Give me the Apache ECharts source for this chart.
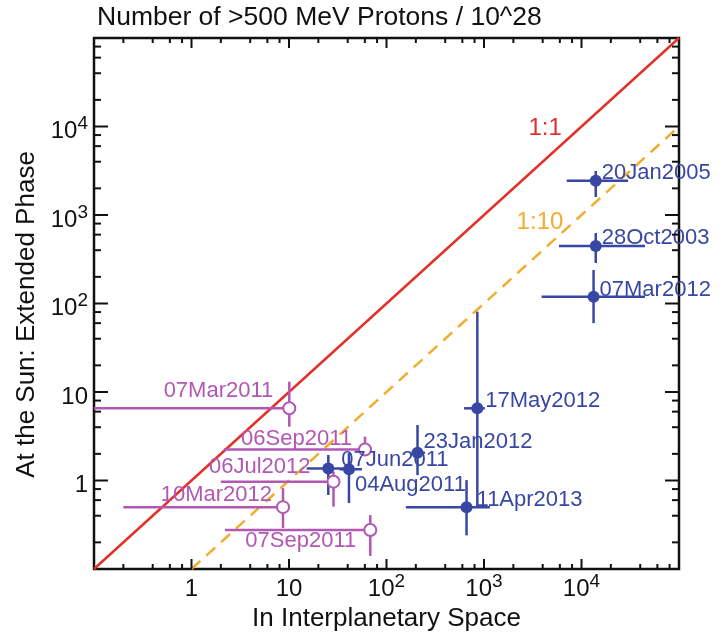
<!DOCTYPE html>
<html><head><meta charset="utf-8">
<script src="https://cdn.jsdelivr.net/npm/echarts@6/dist/echarts.min.js"></script>
<style>html,body{margin:0;padding:0;background:#fff}#c{width:725px;height:637px}</style>
</head><body><div id="c"></div>
<script>
// ---- data ----
const blueNames = ['20Jan2005','28Oct2003','07Mar2012','17May2012','23Jan2012','11Apr2013','07Jun2011','04Aug2011'];
const blueX     = [14000, 14000, 13300, 854, 208, 662, 25.3, 41.2];
const blueY     = [2440, 447, 119, 6.54, 2.06, 0.50, 1.37, 1.34];
const blueXLo   = [7050, 5880, 3900, 624, 181, 158, 15.2, 33];
const blueXHi   = [30000, 44800, 44800, 1020, 248, 1150, 38, 56];
const blueYLo   = [1600, 287, 60, 0.50, 1.15, 0.24, 0.686, 0.557];
const blueYHi   = [3140, 626, 239, 80.8, 4.24, 1.01, 1.94, 2.04];

const purpleNames = ['07Mar2011','06Sep2011','06Jul2012','10Mar2012','07Sep2011'];
const purpleX     = [10.07, 60.2, 28.6, 8.68, 68.2];
const purpleY     = [6.54, 2.24, 0.97, 0.50, 0.276];
const purpleXLo   = [0.1, 2.15, 2.0, 0.2, 2.2];
const purpleXHi   = [10.07, 60.2, 28.6, 8.68, 68.2];
const purpleYLo   = [4.05, 2.0, 0.506, 0.29, 0.14];
const purpleYHi   = [13.1, 3.13, 1.26, 0.82, 0.407];

const axisRange = [0.1, 1e5];
const majorTicks = [1, 10, 100, 1000, 10000];
const minorMultipliers = [2, 4, 6, 8];
const decades = [0.1, 1, 10, 100, 1000, 10000];

const oneToOne = [[0.1, 0.1], [1e5, 1e5]];
const oneToTen = [[1, 0.1], [1e5, 1e4]];
const refLabels = ['1:1', '1:10'];
const refLabelPos = [[4230, 9620], [3750, 834]];

// ---- styles ----
const FONT = '"Liberation Sans", Arial, Helvetica, sans-serif';
const BLUE = '#3847a3';
const PURPLE = '#b257b4';
const RED = '#e2312b';
const ORANGE = '#f2ad2e';
const INK = '#111';
// label offsets in px: blue labels start at point+dx, purple labels end at point+dx
const blueLabelOff = [[6,-8],[6,-8],[6,-7],[8,-7],[6,-11],[10,-7],[13,-8],[6,16]];
const purpleLabelOff = [[-16,-17],[-13,-11],[-23,-15],[-11,-12],[-14,11]];

const tickData = [];
majorTicks.forEach(v => { tickData.push([v, v, 0, 1]); tickData.push([v, v, 1, 1]); });
decades.forEach(d => minorMultipliers.forEach(m => {
  const v = d * m;
  if (v < axisRange[1]) { tickData.push([v, v, 0, 0]); tickData.push([v, v, 1, 0]); }
}));

function fmt(v) {
  const e = Math.round(Math.log10(v));
  if (e < 0 || e > 4) return '';
  if (e === 0) return '{b|1}';
  if (e === 1) return '{b|10}';
  return '{b|10}{s|' + e + '}';
}
const rich = {
  b: {fontSize: 24, lineHeight: 24, padding: [10, 0, 0, 0], fontFamily: FONT, color: INK},
  s: {fontSize: 19, lineHeight: 19, verticalAlign: 'top', fontFamily: FONT, color: INK}
};

function errRows(X, Y, XL, XH, YL, YH) {
  return X.map((x, i) => [x, Y[i], XL[i], XH[i], YL[i], YH[i]]);
}
function errRender(color) {
  return function (params, api) {
    const x = api.value(0), y = api.value(1);
    const a = api.coord([api.value(2), y]), b = api.coord([api.value(3), y]);
    const c = api.coord([x, api.value(4)]), d = api.coord([x, api.value(5)]);
    const st = {stroke: color, lineWidth: 2.5};
    return {type: 'group', children: [
      {type: 'line', shape: {x1: a[0], y1: a[1], x2: b[0], y2: b[1]}, style: st},
      {type: 'line', shape: {x1: c[0], y1: c[1], x2: d[0], y2: d[1]}, style: st}
    ]};
  };
}
function labelRender(names, offs, color, align) {
  return function (params, api) {
    const p = api.coord([api.value(0), api.value(1)]);
    const o = offs[params.dataIndex];
    return {type: 'text', x: p[0] + o[0], y: p[1] + o[1],
      style: {text: names[params.dataIndex], fill: color, fontSize: 22, fontFamily: FONT,
              align: align, verticalAlign: 'middle'}};
  };
}

const chart = echarts.init(document.getElementById('c'), null, {renderer: 'canvas'});
chart.setOption({
  animation: false,
  backgroundColor: '#fff',
  title: {text: 'Number of >500 MeV Protons / 10^28', left: 97, top: 4, padding: 0,
    textStyle: {fontSize: 26.5, fontWeight: 'normal', color: INK, fontFamily: FONT}},
  grid: {left: 94, top: 38, right: 46, bottom: 68, show: true, borderColor: INK, borderWidth: 2.5,
    backgroundColor: 'transparent'},
  xAxis: {type: 'log', logBase: 10, min: axisRange[0], max: axisRange[1], splitNumber: 6,
    axisLine: {show: false}, axisTick: {show: false}, splitLine: {show: false}, minorTick: {show: false},
    axisLabel: {formatter: fmt, rich: rich, margin: 3, showMinLabel: true, showMaxLabel: true},
    name: 'In Interplanetary Space', nameLocation: 'middle', nameGap: 34,
    nameTextStyle: {fontSize: 26, color: INK, fontFamily: FONT}},
  yAxis: {type: 'log', logBase: 10, min: axisRange[0], max: axisRange[1], splitNumber: 6,
    axisLine: {show: false}, axisTick: {show: false}, splitLine: {show: false}, minorTick: {show: false},
    axisLabel: {formatter: fmt, rich: rich, margin: 6, showMinLabel: true, showMaxLabel: true},
    name: 'At the Sun: Extended Phase', nameLocation: 'middle', nameGap: 44,
    nameTextStyle: {fontSize: 26, color: INK, fontFamily: FONT, padding: [0, 22, 0, 0]}},
  series: [
    {type: 'custom', name: 'ticks', data: tickData, encode: {x: 0, y: 1}, clip: false, z: 10, silent: true,
      renderItem: function (params, api) {
        const v = api.value(0), ax = api.value(2), major = api.value(3);
        const lo = api.coord([axisRange[0], axisRange[0]]);
        const hi = api.coord([axisRange[1], axisRange[1]]);
        const st = {stroke: INK, lineWidth: 2};
        if (ax === 0) {
          const x = api.coord([v, 1])[0], len = major ? 10 : 5;
          return {type: 'group', children: [
            {type: 'line', shape: {x1: x, y1: lo[1], x2: x, y2: lo[1] - len}, style: st},
            {type: 'line', shape: {x1: x, y1: hi[1], x2: x, y2: hi[1] + len}, style: st}]};
        }
        const y = api.coord([1, v])[1], len = major ? 14 : 7;
        return {type: 'group', children: [
          {type: 'line', shape: {x1: lo[0], y1: y, x2: lo[0] + len, y2: y}, style: st},
          {type: 'line', shape: {x1: hi[0], y1: y, x2: hi[0] - len, y2: y}, style: st}]};
      }},
    {type: 'line', name: '1:1', data: oneToOne, showSymbol: false, z: 2,
      lineStyle: {color: RED, width: 2.5}},
    {type: 'line', name: '1:10', data: oneToTen, showSymbol: false, z: 2,
      lineStyle: {color: ORANGE, width: 2.5, type: [12, 8]}},
    {type: 'custom', name: 'blueErr', data: errRows(blueX, blueY, blueXLo, blueXHi, blueYLo, blueYHi),
      encode: {x: 0, y: 1}, clip: true, z: 3, renderItem: errRender(BLUE)},
    {type: 'custom', name: 'purpleErr', data: errRows(purpleX, purpleY, purpleXLo, purpleXHi, purpleYLo, purpleYHi),
      encode: {x: 0, y: 1}, clip: true, z: 3, renderItem: errRender(PURPLE)},
    {type: 'scatter', name: 'blue', data: blueX.map((x, i) => [x, blueY[i]]), symbol: 'circle', symbolSize: 12, z: 4,
      itemStyle: {color: BLUE, opacity: 1}},
    {type: 'scatter', name: 'purple', data: purpleX.map((x, i) => [x, purpleY[i]]), symbol: 'circle', symbolSize: 12, z: 4,
      itemStyle: {color: '#fff', borderColor: PURPLE, borderWidth: 2, opacity: 1}},
    {type: 'custom', name: 'blueLabels', data: blueX.map((x, i) => [x, blueY[i]]), encode: {x: 0, y: 1}, clip: false, z: 5,
      renderItem: labelRender(blueNames, blueLabelOff, BLUE, 'left')},
    {type: 'custom', name: 'purpleLabels', data: purpleX.map((x, i) => [x, purpleY[i]]), encode: {x: 0, y: 1}, clip: false, z: 5,
      renderItem: labelRender(purpleNames, purpleLabelOff, PURPLE, 'right')},
    {type: 'custom', name: 'refLabels', data: refLabelPos, encode: {x: 0, y: 1}, clip: false, z: 5,
      renderItem: function (params, api) {
        const p = api.coord([api.value(0), api.value(1)]);
        return {type: 'text', x: p[0], y: p[1], style: {text: refLabels[params.dataIndex],
          fill: params.dataIndex === 0 ? RED : ORANGE, fontSize: 24, fontFamily: FONT,
          align: 'center', verticalAlign: 'middle'}};
      }}
  ]
});
</script></body></html>
